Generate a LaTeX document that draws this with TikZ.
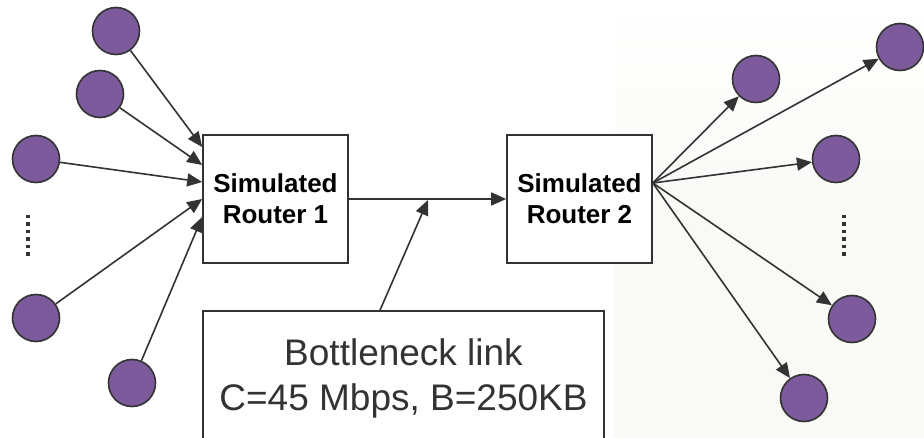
\documentclass[tikz,border=0pt]{standalone}
\usepackage{fontspec}
\setmainfont{Liberation Sans}
\usetikzlibrary{arrows.meta,calc}
\definecolor{edgegray}{HTML}{333333}
\definecolor{nodepurple}{HTML}{7D5A9B}
\definecolor{offwhite}{HTML}{F9F9F6}
\tikzset{
  host/.style={circle,draw=edgegray,line width=1.6pt,fill=nodepurple,minimum size=47pt,inner sep=0pt},
  routerbox/.style={rectangle,draw=edgegray,line width=1.6pt,fill=white,minimum width=145pt,minimum height=128pt,inner sep=0pt,align=center,
    font=\fontsize{26pt}{31pt}\selectfont\bfseries},
  conn/.style={draw=edgegray,line width=1.6pt,-{Triangle[length=15pt,width=13pt]}},
  vdots/.style={draw=edgegray,line width=3.5pt,dash pattern=on 3.5pt off 4pt},
}
\begin{document}
\begin{tikzpicture}[x=1pt,y=-1pt]
\useasboundingbox (0,0) rectangle (924,438);
\fill[white] (0,0) rectangle (924,438);
\shade[top color=white,bottom color=offwhite,middle color=offwhite] (615,0) rectangle (924,438);

% routers
\node[routerbox] (r1) at (275.5,199) {Simulated\\Router 1};
\node[routerbox] (r2) at (579.5,199) {Simulated\\Router 2};

% bottleneck box
\node[rectangle,draw=edgegray,line width=1.6pt,fill=white,minimum width=401pt,minimum height=170pt,inner sep=0pt] (bn) at (403.5,396) {};
\node[anchor=base,align=center,inner sep=0pt,text=edgegray,font=\fontsize{37pt}{45pt}\selectfont] (bntext) at (403.5,410) {Bottleneck link\\C=45 Mbps, B=250KB};

% left hosts
\node[host] (l1) at (116,31) {};
\node[host] (l2) at (100,94) {};
\node[host] (l3) at (36,159) {};
\node[host] (l4) at (36,318) {};
\node[host] (l5) at (132,383) {};

% right hosts
\node[host] (q1) at (756,79) {};
\node[host] (q2) at (900,47) {};
\node[host] (q3) at (836,159) {};
\node[host] (q4) at (852,319) {};
\node[host] (q5) at (804,398) {};

% dots
\coordinate (ld1) at (28,215); \coordinate (ld2) at (28,258);
\coordinate (rd1) at (844,215); \coordinate (rd2) at (844,258);
\draw[vdots] (ld1) -- (ld2);
\draw[vdots] (rd1) -- (rd2);

% left arrows
\draw[conn] (l1) -- ([yshift=52pt]r1.west);
\draw[conn] (l2) -- ([yshift=34pt]r1.west);
\draw[conn] (l3) -- ([yshift=17pt]r1.west);
\draw[conn] (l4) -- ([yshift=0pt]r1.west);
\draw[conn] (l5) -- ([yshift=-18pt]r1.west);

% right arrows
\coordinate (src) at ([yshift=16pt]r2.east);
\draw[conn] (src) -- (q1);
\draw[conn] (src) -- (q2);
\draw[conn] (src) -- (q3);
\draw[conn] (src) -- (q4);
\draw[conn] (src) -- (q5);

% link
\draw[conn] (r1.east) -- (r2.west);
\coordinate (lk) at (428,200);
\draw[conn] ([xshift=-23.5pt]bn.north) -- (lk);
\end{tikzpicture}
\end{document}
